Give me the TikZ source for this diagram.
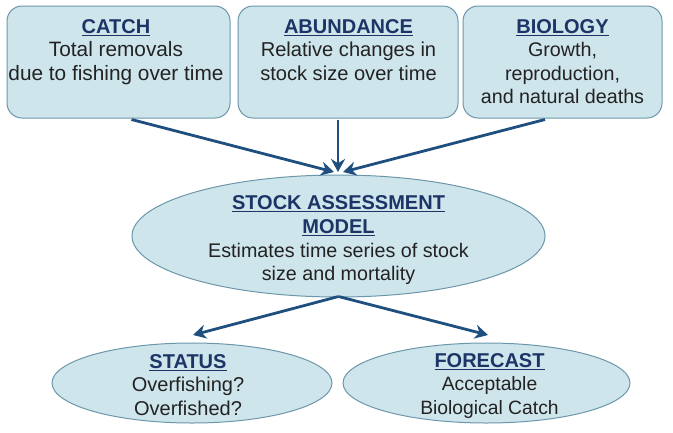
\documentclass[tikz,border=0pt]{standalone}
\usepackage{fontspec}
\setmainfont{Liberation Sans}
\usetikzlibrary{shapes.geometric,arrows.meta,calc}
\definecolor{boxfill}{HTML}{CFE5EC}
\definecolor{boxline}{HTML}{6C97AB}
\definecolor{arrowblue}{HTML}{1E4F7E}
\definecolor{titleblue}{HTML}{1C3466}
\definecolor{bodytext}{HTML}{222222}
\newcommand{\ttl}[1]{{\fontsize{20}{23.5}\selectfont\bfseries\color{titleblue}\underline{#1}}}
\newcommand{\bodysize}[1]{\fontsize{#1}{23.5}\selectfont}
\begin{document}
\begin{tikzpicture}[x=1pt,y=-1pt,
  card/.style={draw=boxline, line width=1pt, fill=boxfill, rounded corners=15pt, inner sep=0pt},
  oval/.style={draw=boxline, line width=1pt, fill=boxfill, ellipse, inner sep=0pt},
  words/.style={align=center, text=bodytext, font=\bodysize{20}, inner sep=0pt},
  flow/.style={draw=arrowblue, line width=2.8pt, -{Stealth[length=13pt,width=14pt]}}]
\useasboundingbox (0,0) rectangle (673,432);

% input boxes
\node[card, minimum width=223pt, minimum height=112pt] (catch) at (118.5,62) {};
\node[card, minimum width=220pt, minimum height=112pt] (abund) at (348,62) {};
\node[card, minimum width=199pt, minimum height=112pt] (bio) at (562.5,62) {};

\node[words, font=\bodysize{20.8}, anchor=north] (catchtxt) at (116,19) {\ttl{CATCH}\\Total removals\\due to fishing over time};
\node[words, font=\bodysize{20.1}, anchor=north] (abundtxt) at (348.5,19) {\ttl{ABUNDANCE}\\Relative changes in\\stock size over time};
\node[words, font=\bodysize{19.7}, anchor=north] (biotxt) at (562.5,19) {\ttl{BIOLOGY}\\Growth,\\reproduction,\\and natural deaths};

% model
\node[oval, minimum width=413pt, minimum height=122pt] (model) at (338.5,236) {};
\node[words, font=\fontsize{19.7}{23.7}\selectfont] (modeltxt) at (338.5,240.5) {\ttl{STOCK ASSESSMENT}\\\ttl{MODEL}\\Estimates time series of stock\\size and mortality};

% outputs
\node[oval, minimum width=280pt, minimum height=80pt] (status) at (192,383) {};
\node[words] (statustxt) at (188,385) {\ttl{STATUS}\\Overfishing?\\Overfished?};
\node[oval, minimum width=287pt, minimum height=80pt] (fore) at (486.5,383) {};
\node[words, font=\bodysize{19.3}] (foretxt) at (489.5,386) {\ttl{FORECAST}\\Acceptable\\Biological Catch};

% arrow ends
\coordinate (c0) at ($(catch.south)+(13,1)$);
\coordinate (a0) at ($(abund.south)+(-10,1)$);
\coordinate (b0) at ($(bio.south)+(-17.5,1)$);
\coordinate (c1) at (334,172);
\coordinate (a1) at (338,172);
\coordinate (b1) at (343,172);
\coordinate (m0) at ($(model.south)+(0,-1)$);
\coordinate (s1) at (193,335);
\coordinate (f1) at (488,335);

\draw[flow] (c0) -- (c1);
\draw[flow] (a0) -- (a1);
\draw[flow] (b0) -- (b1);
\draw[flow] (m0) -- (s1);
\draw[flow] (m0) -- (f1);
\end{tikzpicture}
\end{document}
